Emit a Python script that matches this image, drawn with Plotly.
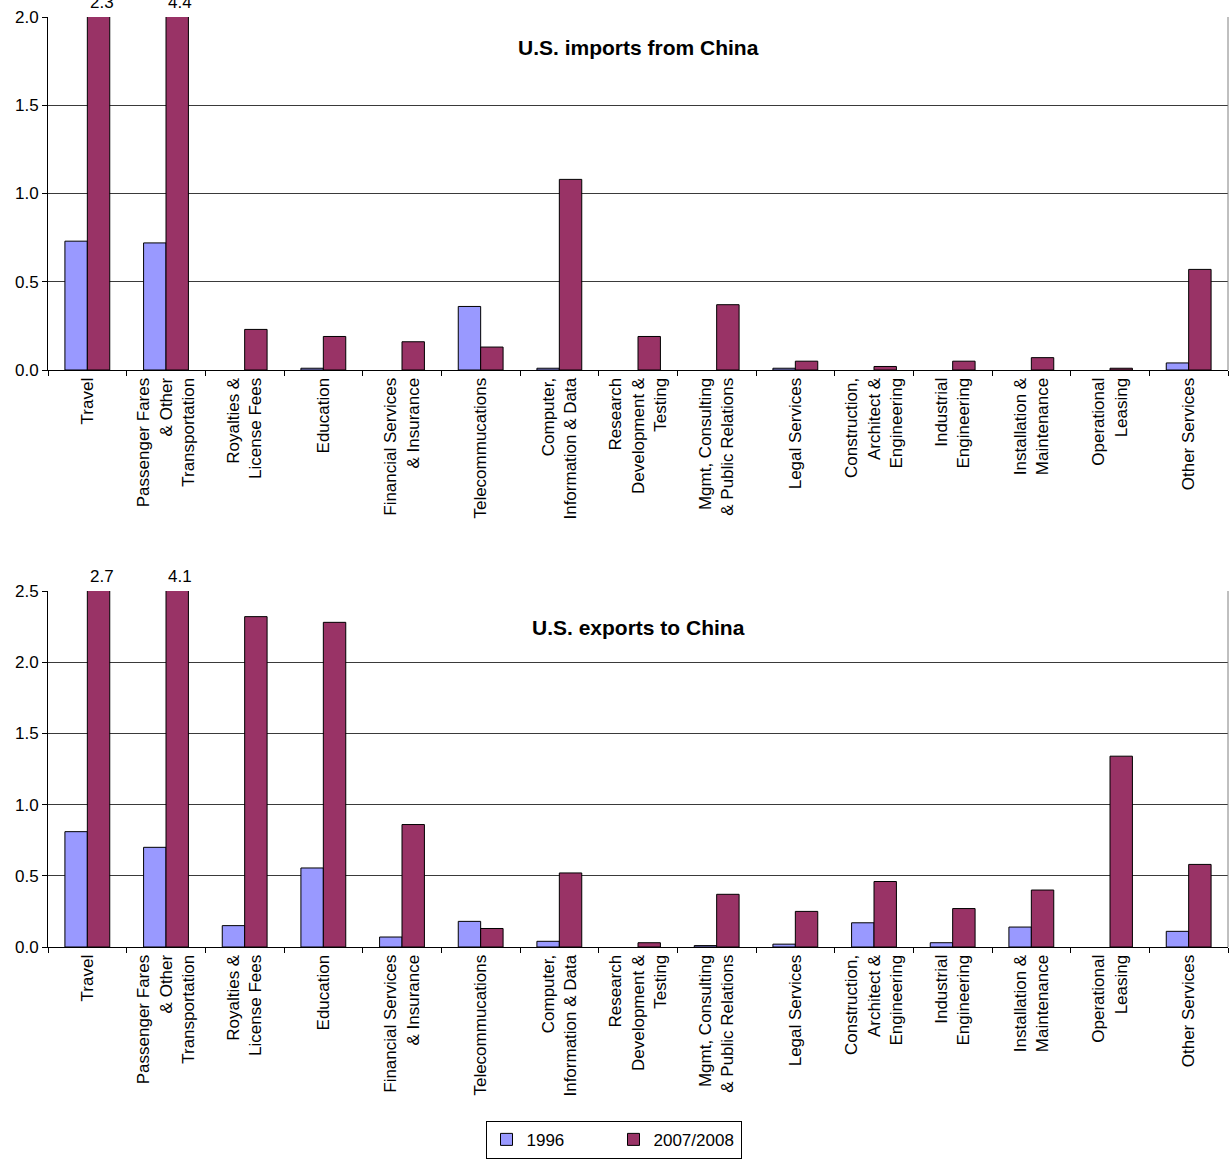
import plotly.graph_objects as go

categories = [
    "Travel",
    "Passenger Fares<br>& Other<br>Transportation",
    "Royalties &<br>License Fees",
    "Education",
    "Financial Services<br>& Insurance",
    "Telecommucations",
    "Computer,<br>Information & Data",
    "Research<br>Development &<br>Testing",
    "Mgmt, Consulting<br>& Public Relations",
    "Legal Services",
    "Construction,<br>Architect &<br>Engineering",
    "Industrial<br>Engineering",
    "Installation &<br>Maintenance",
    "Operational<br>Leasing",
    "Other Services",
]

imports_1996 = [0.73, 0.72, 0.0, 0.01, 0.0, 0.36, 0.01, 0.0, 0.0, 0.01, 0.0, 0.0, 0.0, 0.0, 0.04]
imports_2008 = [2.3, 4.4, 0.23, 0.19, 0.16, 0.13, 1.08, 0.19, 0.37, 0.05, 0.02, 0.05, 0.07, 0.01, 0.57]

exports_1996 = [0.81, 0.70, 0.15, 0.555, 0.07, 0.18, 0.04, 0.0, 0.01, 0.02, 0.17, 0.03, 0.14, 0.0, 0.11]
exports_2008 = [2.7, 4.1, 2.32, 2.28, 0.86, 0.13, 0.52, 0.03, 0.37, 0.25, 0.46, 0.27, 0.40, 1.34, 0.58]

series_names = ["1996", "2007/2008"]
panel_titles = ["U.S. imports from China", "U.S. exports to China"]
y_max = [2.0, 2.5]

C1996 = "#9999FF"
C2008 = "#993366"
FONT = "Liberation Sans, Arial, sans-serif"

W, H = 1230, 1160
fig = go.Figure()

def lw(vals):
    return [1 if v > 0 else 0 for v in vals]

panels = [(imports_1996, imports_2008, "x", "y"), (exports_1996, exports_2008, "x2", "y2")]
for i, (a, b, xa, ya) in enumerate(panels):
    fig.add_trace(go.Bar(x=categories, y=a, name=series_names[0],
                         marker=dict(color=C1996, line=dict(color="black", width=lw(a))),
                         xaxis=xa, yaxis=ya, showlegend=(i == 0), legendgroup="a"))
    fig.add_trace(go.Bar(x=categories, y=b, name=series_names[1],
                         marker=dict(color=C2008, line=dict(color="black", width=lw(b))),
                         xaxis=xa, yaxis=ya, showlegend=(i == 0), legendgroup="b"))

# pixel layout
x0, x1 = 48, 1228
top_y = (17, 370)
bot_y = (591, 947)

def ydom(t, b):
    return [1 - b / H, 1 - t / H]

xdom = [x0 / W, x1 / W]

common_x = dict(
    domain=xdom, type="category", tickson="boundaries", ticks="outside", ticklen=5,
    tickcolor="black", showline=True, linecolor="black", linewidth=1, tickangle=-90,
    tickfont=dict(family=FONT, size=17, color="black"), showgrid=False, automargin=False,
)
common_y = dict(
    dtick=0.5, tickformat=".1f", ticks="outside", ticklen=5, tickcolor="black",
    showline=True, linecolor="black", linewidth=1, showgrid=True, gridcolor="#3a3a3a", gridwidth=1,
    tickfont=dict(family=FONT, size=17, color="black"), zeroline=False, automargin=False,
)

fig.update_layout(
    width=W, height=H, margin=dict(l=0, r=0, t=0, b=0, pad=0),
    paper_bgcolor="white", plot_bgcolor="white",
    barmode="group", bargap=0.43, bargroupgap=0,
    font=dict(family=FONT, size=17, color="black"),
    xaxis=dict(common_x, anchor="y"),
    yaxis=dict(common_y, domain=ydom(*top_y), range=[0, y_max[0]], anchor="x"),
    xaxis2=dict(common_x, anchor="y2"),
    yaxis2=dict(common_y, domain=ydom(*bot_y), range=[0, y_max[1]], anchor="x2"),
    legend=dict(orientation="h", x=(486 + 741) / 2 / W, xanchor="center", y=0.001, yanchor="bottom",
                bordercolor="black", borderwidth=1, font=dict(family=FONT, size=17),
                traceorder="normal", itemwidth=30, entrywidth=82, entrywidthmode="pixels"),
)

annotations = []
bar_w = (x1 - x0) / len(categories) * (1 - 0.43) / 2
for k, (series, ya, xa) in enumerate([(imports_2008, "y", "x"), (exports_2008, "y2", "x2")]):
    for cat, v in zip(categories, series):
        if v > y_max[k]:
            annotations.append(dict(x=cat, y=y_max[k], xref=xa, yref=ya, text=f"{v:.1f}", showarrow=False,
                                    xshift=bar_w / 2 + 3, yshift=3, yanchor="bottom",
                                    font=dict(family=FONT, size=17, color="black")))
    # panel title
    annotations.append(dict(x=0.5, y=1, xref=f"{xa} domain", yref=f"{ya} domain", text=f"<b>{panel_titles[k]}</b>",
                            showarrow=False, yanchor="middle", yshift=-30 if k == 0 else -36,
                            font=dict(family=FONT, size=21, color="black")))
fig.update_layout(annotations=annotations)

# right border of each plot area
for xa, ya in [("x", "y"), ("x2", "y2")]:
    fig.add_shape(type="line", xref=f"{xa} domain", yref=f"{ya} domain", x0=1, x1=1, y0=0, y1=1,
                  line=dict(color="#808080", width=1))

fig.write_html("out.html", config={"displayModeBar": False},
               post_script="document.body.style.margin='0';document.documentElement.style.overflow='hidden';")
